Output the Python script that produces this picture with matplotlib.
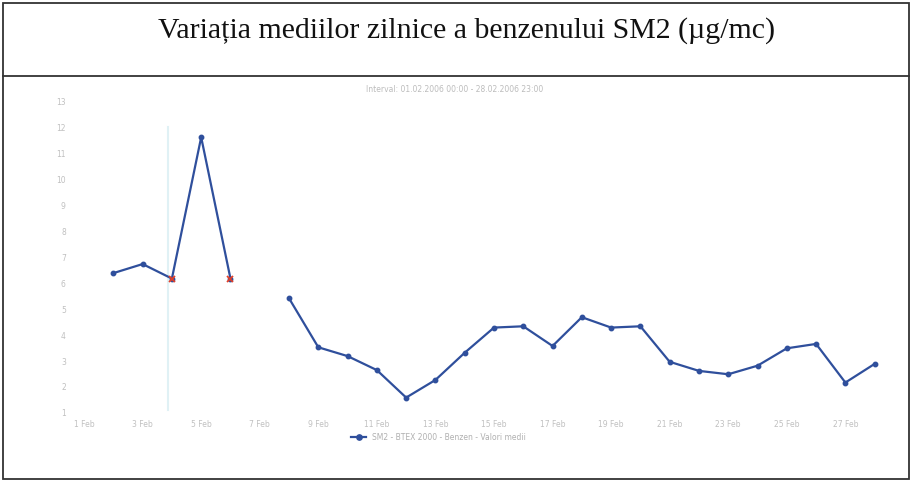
import numpy as np
import matplotlib
matplotlib.use('Agg')
import matplotlib.pyplot as plt
from matplotlib.patches import Rectangle

# %% Data - daily benzene means, SM2, February
days = list(range(2, 29))
values = [6.39, 6.74, 6.18, 11.63, 6.18, np.nan, 5.42, 3.53, 3.19, 2.65,
          1.59, 2.27, 3.32, 4.29, 4.34, 3.58, 4.69, 4.29, 4.34, 2.97,
          2.62, 2.49, 2.82, 3.49, 3.66, 2.17, 2.89]
flagged_days = [4, 6]
tick_days = list(range(1, 28, 2))
tick_labels = ['%d Feb' % d for d in tick_days]
y_ticks = list(range(1, 14))

title = 'Variația mediilor zilnice a benzenului SM2 (µg/mc)'
subtitle = 'Interval: 01.02.2006 00:00 - 28.02.2006 23:00'
legend_label = 'SM2 - BTEX 2000 - Benzen - Valori medii'

W, H = 914, 484
fig = plt.figure(figsize=(W / 100, H / 100), dpi=100)

# outer frame and title box
fig.patches.append(Rectangle((3 / W, 5 / H), 906 / W, 476 / H, transform=fig.transFigure,
                             fill=False, lw=1.3, ec='#333333'))
fig.add_artist(plt.Line2D([3 / W, 909 / W], [1 - 76 / H, 1 - 76 / H], transform=fig.transFigure,
                          lw=1.3, color='#333333'))
fig.text(467 / W, 1 - 31 / H, title, ha='center', va='center',
         family='Liberation Serif', fontsize=21.5, color='#111111')
fig.text(455 / W, 1 - 90 / H, subtitle, ha='center', va='center', fontsize=5.5, color='#bcbcbc')

ax = fig.add_axes([70 / W, 1 - 416 / H, 819 / W, 321 / H])
ax.set_xlim(0.52, 28.49)
ax.set_ylim(0.88, 13.26)

# faint scan artifact
ax.axvline(3.87, ymin=0.02, ymax=0.9, color='#e0f1f5', lw=1.5)

vals = np.array(values)
ax.plot(days, vals, color='#2f4f9c', lw=1.6, marker='o', ms=3.2, label=legend_label)
fl = [vals[days.index(d)] for d in flagged_days]
ax.plot(flagged_days, fl, ls='none', marker='x', ms=5, mew=1.3, color='#e0402a')

ax.set_xticks(tick_days)
ax.set_xticklabels(tick_labels)
ax.set_yticks(y_ticks)
ax.tick_params(length=0, labelsize=5.5, labelcolor='#c0c0c0', pad=3)
for s in ax.spines.values():
    s.set_visible(False)

ax.legend(loc='upper center', bbox_to_anchor=(0.45, -0.03), frameon=False, fontsize=5.5,
          labelcolor='#b0b0b0', handlelength=2, markerscale=1.2)

fig.savefig('out.png', dpi=100)
